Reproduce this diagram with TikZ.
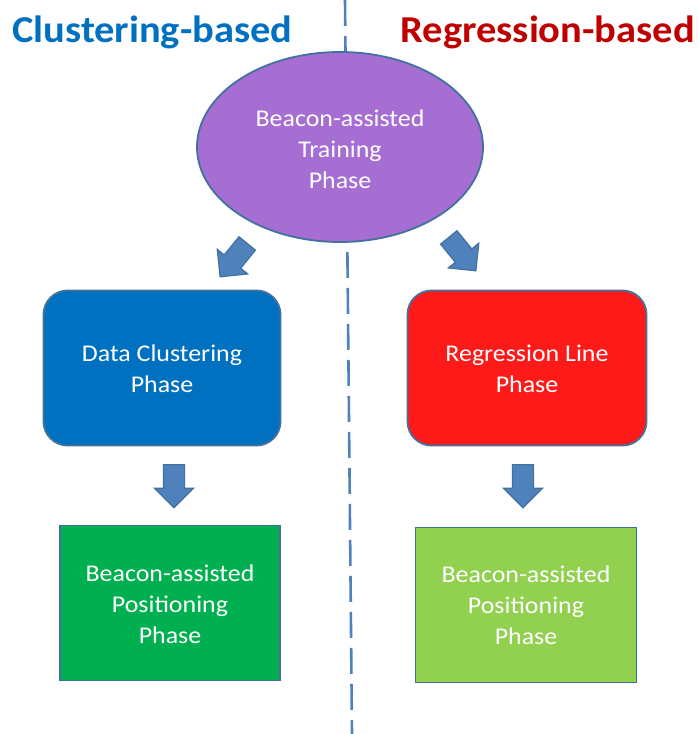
\documentclass[tikz,border=0pt]{standalone}
\usepackage{fontspec}
\setmainfont{Carlito}
\usetikzlibrary{shapes.geometric,shapes.arrows}
\definecolor{edgeblue}{HTML}{41719C}
\definecolor{arrowblue}{HTML}{4F81BD}
\definecolor{titleblue}{HTML}{0070C0}
\definecolor{titlered}{HTML}{C00000}
\definecolor{purplefill}{HTML}{A66ED2}
\definecolor{bluefill}{HTML}{0070C0}
\definecolor{redfill}{HTML}{FF1A1A}
\definecolor{greenfill}{HTML}{00B050}
\definecolor{limefill}{HTML}{92D050}
\newcommand{\phasefont}{\fontsize{24}{31}\selectfont}
\tikzset{
  phasetext/.style={text=white, align=center},
  roundbox/.style={draw=edgeblue, line width=1.8pt, rounded corners=24pt, minimum width=237pt, minimum height=155pt},
  squarebox/.style={draw=edgeblue, line width=1.8pt, minimum width=220pt, minimum height=155pt},
  label text/.style={phasetext, font=\phasefont, xscale=1.08, inner sep=0pt},
  blockarrow/.style={single arrow, draw=edgeblue, fill=arrowblue, line width=1.2pt, minimum height=43pt, inner xsep=0pt, inner ysep=10pt, single arrow head extend=9pt, single arrow tip angle=90, anchor=center},
  titletext/.style={font=\fontsize{38}{42}\selectfont\bfseries, inner sep=0pt, xscale=1.065},
  divider/.style={draw=arrowblue, line width=2.6pt, dash pattern=on 26pt off 10pt}
}
\begin{document}
\begin{tikzpicture}[x=1pt,y=-1pt]
\useasboundingbox (0,0) rectangle (699,734);
\coordinate (dtop) at (345,0);
\coordinate (dbot) at (352,734);
\draw[divider] (dtop) -- (dbot);
\node[titletext, text=titleblue, anchor=base west] (tl) at (12,42) {Clustering-based};
\node[titletext, text=titlered, anchor=base east] (tr) at (695,42) {Regression-based};
\node[ellipse, draw=edgeblue, fill=purplefill, line width=1.8pt, minimum width=286pt, minimum height=190pt] (train) at (340,147) {};
\node[label text] (traint) at ([yshift=-2.5pt]train.center) {Beacon-assisted\\Training\\Phase};
\node[roundbox, fill=bluefill] (clus) at (162,368) {};
\node[label text] (clust) at ([yshift=-1pt]clus.center) {Data Clustering\\Phase};
\node[roundbox, fill=redfill, minimum width=239pt] (regr) at (527,368) {};
\node[label text] (regrt) at ([yshift=-1pt]regr.center) {Regression Line\\Phase};
\node[squarebox, fill=greenfill] (posl) at (170,603) {};
\node[label text] (poslt) at ([yshift=-1pt]posl.center) {Beacon-assisted\\Positioning\\Phase};
\node[squarebox, fill=limefill, minimum width=221pt] (posr) at (526,605) {};
\node[label text] (posrt) at (posr.center) {Beacon-assisted\\Positioning\\Phase};
\node[blockarrow, rotate=-129] (al) at (237,256) {};
\node[blockarrow, rotate=-51] (ar) at (459,250) {};
\node[blockarrow, rotate=-90] (bl) at (174,481) {};
\node[blockarrow, rotate=-90] (br) at (523,481) {};
\end{tikzpicture}
\end{document}
